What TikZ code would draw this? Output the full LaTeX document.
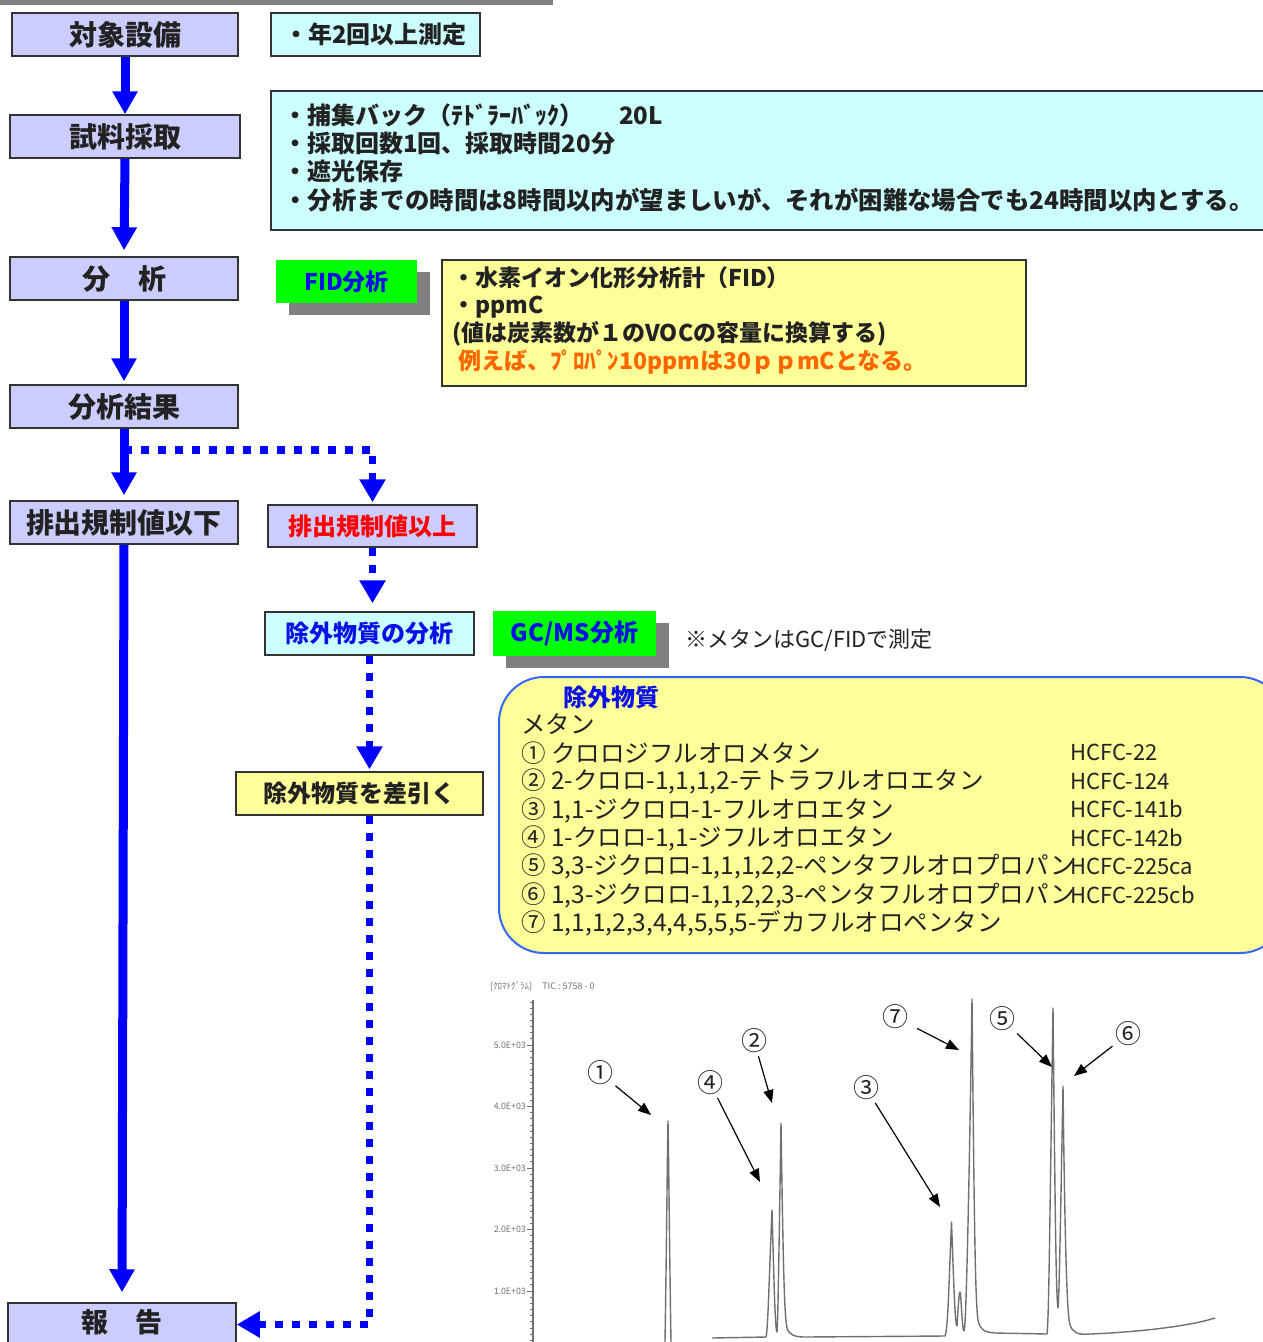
\documentclass[tikz,border=0pt]{standalone}
\usepackage{fontspec}
\setmainfont{Noto Sans CJK JP}
\usetikzlibrary{arrows.meta,shadows,calc}
\definecolor{lav}{HTML}{CCCCFF}
\definecolor{cyanbg}{HTML}{CCFFFF}
\definecolor{yel}{HTML}{FFFF99}
\definecolor{grn}{HTML}{00FF00}
\definecolor{flowblue}{HTML}{0000FF}
\definecolor{txt}{HTML}{222222}
\definecolor{bord}{HTML}{333333}
\definecolor{shd}{HTML}{808080}
\definecolor{txtblue}{HTML}{0A10E6}
\definecolor{orng}{HTML}{FF6600}
\definecolor{rbord}{HTML}{3366FF}
\definecolor{chrom}{HTML}{707070}
\begin{document}
\begin{tikzpicture}[x=1pt,y=-1pt,
  box/.style={draw=bord,line width=1.5pt,inner sep=0pt,text=txt},
  bigfont/.style={font=\fontsize{28}{30}\selectfont\bfseries},
  midfont/.style={font=\fontsize{24}{26}\selectfont\bfseries},
  line/.style={anchor=west,inner sep=0pt,text=txt,font=\fontsize{24}{26}\selectfont\bfseries},
  fline/.style={anchor=west,inner sep=0pt,text=txt,font=\fontsize{23}{25}\selectfont\bfseries},
  lst/.style={anchor=west,inner sep=0pt,text=txt,font=\fontsize{24.5}{26}\selectfont},
  hc/.style={anchor=west,inner sep=0pt,text=txt,font=\fontsize{22}{24}\selectfont},
  gbox/.style={fill=grn,inner sep=0pt,text=txtblue,font=\fontsize{23}{25}\selectfont\bfseries,
    drop shadow={shadow xshift=13pt,shadow yshift=-12pt,fill=shd,opacity=1}},
  solidarrow/.style={draw=flowblue,line width=9pt,-{Triangle[width=24pt,length=23pt]}},
  dotarrow/.style={draw=flowblue,line width=7.5pt,dash pattern=on 8pt off 9pt,-{Triangle[width=25pt,length=23pt]}},
  tick/.style={draw=chrom,line width=0.8pt},
  ticklbl/.style={anchor=east,inner sep=0pt,text=chrom,font=\fontsize{8.8}{9}\selectfont},
  chromline/.style={draw=chrom,line width=1.4pt,line join=round},
  clbl/.style={inner sep=0pt,text=txt,font=\fontsize{26}{26}\selectfont},
  lblarrow/.style={draw=black,line width=1.2pt,shorten <=3pt,-{Triangle[width=10pt,length=13pt]}}
]
\useasboundingbox (0,0) rectangle (1263,1342);
\fill[shd] (0,0) rectangle (553,5);

% left flow boxes
\node[box,fill=lav,bigfont,minimum width=226pt,minimum height=43pt] (b1) at (125,34.5) {対象設備};
\node[box,fill=lav,bigfont,minimum width=230pt,minimum height=43pt] (b2) at (125,136.5) {試料採取};
\node[box,fill=lav,bigfont,minimum width=228pt,minimum height=43pt] (b3) at (124,278.5) {分　析};
\node[box,fill=lav,bigfont,minimum width=228pt,minimum height=43pt] (b4) at (124,406.5) {分析結果};
\node[box,fill=lav,bigfont,minimum width=228pt,minimum height=43pt] (b5a) at (124,522.5) {排出規制値以下};
\node[box,fill=lav,font=\fontsize{27}{29}\selectfont\bfseries,minimum width=228pt,minimum height=43pt,text height=20pt,text depth=4pt] (b8) at (122,1324.5) {報　告};

% right column boxes
\node[box,fill=cyanbg,midfont,minimum width=209pt,minimum height=43pt] (n1) at (375.5,34.5) {・年2回以上測定};
\node[box,fill=cyanbg,minimum width=1004pt,minimum height=139pt] (n2) at (773,160.5) {};
\node[line] (n2a) at (283,115) {・捕集バック（ﾃﾄﾞﾗｰﾊﾞｯｸ）\hspace{36pt}20L};
\node[line] (n2b) at (283,143) {・採取回数1回、採取時間20分};
\node[line] (n2c) at (283,171) {・遮光保存};
\node[line,font=\fontsize{24.4}{27}\selectfont\bfseries] (n2d) at (283,200) {・分析までの時間は8時間以内が望ましいが、それが困難な場合でも24時間以内とする。};

\node[gbox,minimum width=141pt,minimum height=43pt] (fid) at (346.5,281.5) {FID分析};
\node[box,fill=yel,minimum width=584pt,minimum height=126pt] (fb) at (734,323) {};
\node[fline] (fba) at (452,278) {・水素イオン化形分析計（FID）};
\node[fline] (fbb) at (452,307) {・ppmC};
\node[fline] (fbc) at (452,334) {(値は炭素数が１のVOCの容量に換算する)};
\node[fline,text=orng] (fbd) at (458,362) {例えば、ﾌﾟﾛﾊﾟﾝ10ppmは30ｐｐmCとなる。};

\node[box,fill=lav,midfont,text=red,minimum width=209pt,minimum height=42pt] (b5b) at (372.5,526) {排出規制値以上};
\node[box,fill=cyanbg,midfont,text=txtblue,minimum width=209pt,minimum height=43pt] (b6) at (369.5,633.5) {除外物質の分析};
\node[gbox,font=\fontsize{24}{26}\selectfont\bfseries,minimum width=163pt,minimum height=45pt] (gc) at (574.5,633.5) {GC/MS分析};
\node[hc,font=\fontsize{22}{24}\selectfont] (note) at (685,640) {※メタンはGC/FIDで測定};
\node[box,fill=yel,midfont,minimum width=247pt,minimum height=43pt] (b7) at (359.5,793.5) {除外物質を差引く};

% substance list box
\node[draw=rbord,line width=2pt,fill=yel,rounded corners=45pt,minimum width=786pt,minimum height=276pt,inner sep=0pt] (rb) at (892,815) {};
\node[anchor=west,inner sep=0pt,text=txtblue,font=\fontsize{24}{26}\selectfont\bfseries] (rbt) at (563,697) {除外物質};
\node[lst] (r0) at (521,724) {メタン};
\node[lst] (r1) at (521,753) {① クロロジフルオロメタン};
\node[lst] (r2) at (521,781) {② 2-クロロ-1,1,1,2-テトラフルオロエタン};
\node[lst] (r3) at (521,810) {③ 1,1-ジクロロ-1-フルオロエタン};
\node[lst] (r4) at (521,838) {④ 1-クロロ-1,1-ジフルオロエタン};
\node[lst] (r5) at (521,866) {⑤ 3,3-ジクロロ-1,1,1,2,2-ペンタフルオロプロパン};
\node[lst] (r6) at (521,895) {⑥ 1,3-ジクロロ-1,1,2,2,3-ペンタフルオロプロパン};
\node[lst] (r7) at (521,923) {⑦ 1,1,1,2,3,4,4,5,5,5-デカフルオロペンタン};
\node[hc] (h1) at (1070,752) {HCFC-22};
\node[hc] (h2) at (1070,781) {HCFC-124};
\node[hc] (h3) at (1070,809) {HCFC-141b};
\node[hc] (h4) at (1070,838) {HCFC-142b};
\node[hc] (h5) at (1070,866) {HCFC-225ca};
\node[hc] (h6) at (1070,895) {HCFC-225cb};

% flow connectors
\draw[solidarrow] (b1.south) -- (b2.north);
\draw[solidarrow,shorten >=6pt] (b2.south) -- (b3.north);
\draw[solidarrow,shorten >=3pt] (b3.south) -- (b4.north);
\draw[solidarrow,shorten >=5pt] (b4.south) -- (b5a.north);
\draw[solidarrow,shorten >=10pt] (b5a.south) -- (b8.north);
\draw[dotarrow,shorten >=2pt] ([yshift=-21pt]b4.south) -| (b5b.north);
\draw[dotarrow,shorten >=8pt] (b5b.south) -- (b5b.south |- b6.north);
\draw[dotarrow,shorten >=2pt] (b6.south) -- (b6.south |- b7.north);
\draw[dotarrow] (b6.south |- b7.south) |- (b8.east);

% chromatogram
\node[anchor=west,inner sep=0pt,text=chrom,font=\fontsize{9}{9}\selectfont] (hdr) at (490,986) {[ｸﾛﾏﾄｸﾞﾗﾑ]\hspace{10pt}TIC : 5758 - 0};
\draw[draw=chrom,line width=1.5pt] (533,1000) -- (533,1342);
\foreach \i in {-7,...,48} { \draw[tick] (533,1045+6.15*\i) -- (530,1045+6.15*\i); }
\foreach \v/\yy in {5/1045,4/1106.5,3/1168,2/1229.5,1/1291} {
  \draw[tick] (533,\yy) -- (527,\yy);
  \node[ticklbl] at (526,\yy) {\v.0E+03};
}
\draw[chromline] (665,1342) .. controls (666.5,1250) and (667,1180) .. (668,1121) .. controls (669,1180) and (669.5,1250) .. (671,1342);
\draw[chromline] (712,1338) -- (766,1337)
  .. controls (768,1330) and (769,1280) .. (772,1210)
  .. controls (774,1280) and (775,1330) .. (777,1332)
  .. controls (778,1320) and (779,1250) .. (781,1123)
  .. controls (783,1250) and (784,1315) .. (787,1328)
  .. controls (789,1335) and (795,1337) .. (805,1337)
  -- (945,1336)
  .. controls (948,1330) and (949,1280) .. (951.5,1222)
  .. controls (954,1290) and (955,1325) .. (957,1326)
  .. controls (958,1310) and (959,1292) .. (960,1292)
  .. controls (961,1292) and (962,1330) .. (964,1331)
  .. controls (966,1331) and (969,1200) .. (972,999)
  .. controls (974,1200) and (975,1300) .. (978,1320)
  .. controls (980,1330) and (984,1332) .. (995,1333)
  -- (1047,1334)
  .. controls (1049,1320) and (1050,1200) .. (1053,1008)
  .. controls (1055,1200) and (1056,1300) .. (1058,1308)
  .. controls (1059,1300) and (1060,1250) .. (1063,1086)
  .. controls (1065,1250) and (1067,1315) .. (1070,1325)
  .. controls (1073,1333) and (1078,1335) .. (1090,1334)
  .. controls (1140,1332) and (1190,1326) .. (1215,1318);

\node[clbl] (c1) at (600,1073) {①};
\node[clbl] (c2) at (754,1041) {②};
\node[clbl] (c3) at (866,1088) {③};
\node[clbl] (c4) at (710,1083) {④};
\node[clbl] (c5) at (1002,1019) {⑤};
\node[clbl] (c6) at (1128,1034) {⑥};
\node[clbl] (c7) at (895,1017) {⑦};
\coordinate (p1) at (651,1115);
\coordinate (p2) at (772,1103);
\coordinate (p3) at (940,1207);
\coordinate (p4) at (760,1182);
\coordinate (p5) at (1052,1067);
\coordinate (p6) at (1074,1076);
\coordinate (p7) at (959,1050);
\draw[lblarrow] (c1) -- (p1);
\draw[lblarrow] (c2) -- (p2);
\draw[lblarrow] (c3) -- (p3);
\draw[lblarrow] (c4) -- (p4);
\draw[lblarrow] (c5) -- (p5);
\draw[lblarrow] (c6) -- (p6);
\draw[lblarrow,shorten <=10pt] (c7) -- (p7);
\end{tikzpicture}
\end{document}
